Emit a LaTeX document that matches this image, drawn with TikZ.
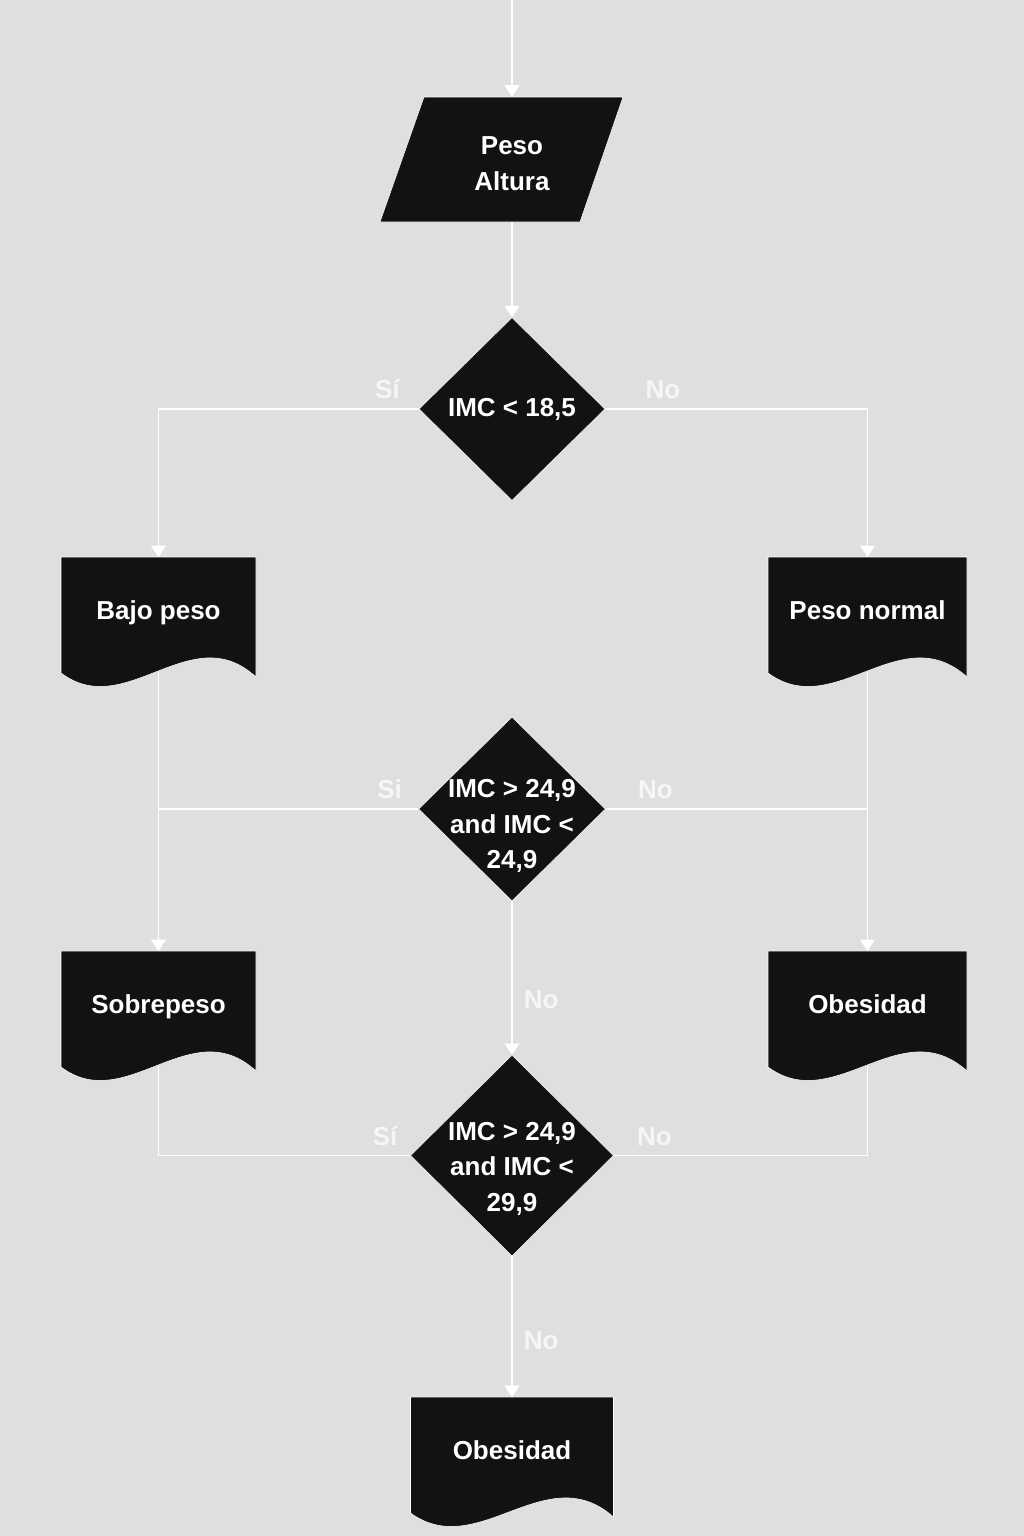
\documentclass[tikz,border=0pt]{standalone}
\usepackage{fontspec}
\setmainfont{Liberation Sans}
\usetikzlibrary{shapes.geometric,arrows.meta}

\definecolor{bggray}{HTML}{DFDFDF}
\definecolor{boxblack}{HTML}{121212}
\definecolor{lblwhite}{HTML}{F6F6F6}

\tikzset{
  BoxStyle/.style={fill=boxblack, draw=white, line width=0.3pt},
  TextStyle/.style={text=white, font=\fontsize{14.8}{20.2}\selectfont\bfseries, align=center},
  DecisionStyle/.style={BoxStyle, diamond, inner sep=0pt},
  DocStyle/.style={TextStyle, anchor=north, minimum height=2.28cm, inner sep=0pt,
                   text height=8pt, text depth=2.3pt},
  LabelStyle/.style={text=lblwhite, font=\fontsize{14.8}{17}\selectfont\bfseries}
}

\newcommand{\DocBox}[5]{%
  \filldraw[BoxStyle] ({#2-#4/2},#3) -- ({#2+#4/2},#3) -- ({#2+#4/2},{#3+120})
    .. controls ({#2+#4/6},{#3+60}) and ({#2-#4/6},{#3+165}) .. ({#2-#4/2},{#3+116}) -- cycle;
  \node[DocStyle] (#1) at (#2,#3) {#5};
}

\begin{document}
\begin{tikzpicture}[x=0.02cm, y=-0.02cm, >={Triangle[width=8.5pt,length=6.5pt]}]
    \path[fill=bggray, use as bounding box] (0,0) rectangle (1024,1536);

    \coordinate (start) at (512,0);
    \filldraw[BoxStyle] (380,222) -- (424,97) -- (623,97) -- (580,222) -- cycle;
    \node[minimum height=2.5cm, inner sep=0pt,
          label={[TextStyle, yshift=-0.08cm]center:{Peso\\Altura}}] (datos) at (512,159.5) {};

    \node[DecisionStyle, minimum width=3.72cm, minimum height=3.66cm,
          label={[TextStyle]center:{IMC < 18,5}}] (imc1) at (512,409) {};
    \node[DecisionStyle, minimum width=3.74cm, minimum height=3.68cm,
          label={[TextStyle, yshift=-0.34cm]center:{IMC > 24,9\\and IMC <\\24,9}}] (imc2) at (512,809) {};
    \node[DecisionStyle, minimum width=4.06cm, minimum height=4.02cm,
          label={[TextStyle, yshift=-0.26cm]center:{IMC > 24,9\\and IMC <\\29,9}}] (imc3) at (512,1155.5) {};

    \DocBox{bajo}{158.5}{557}{195}{Bajo peso}
    \DocBox{normal}{867.5}{557}{199}{Peso normal}
    \DocBox{sobre}{158.5}{951}{195}{Sobrepeso}
    \DocBox{obesa}{867.5}{951}{199}{Obesidad}
    \DocBox{obesb}{512}{1397}{203}{Obesidad}

    \tikzset{EdgeStyle/.style={draw=white, line width=0.8pt, ->}}
    \draw[EdgeStyle] (start) -- (datos.north);
    \draw[EdgeStyle] (datos.south) -- (imc1.north);
    \draw[EdgeStyle] (imc1.west) -| node[LabelStyle, pos=0.06, above, yshift=2pt] {Sí} (bajo.north);
    \draw[EdgeStyle] (imc1.east) -| node[LabelStyle, pos=0.11, above, yshift=2pt] {No} (normal.north);
    \draw[EdgeStyle] (bajo.south) -- (sobre.north);
    \draw[EdgeStyle] (normal.south) -- (obesa.north);
    \draw[EdgeStyle] (imc2.south) -- node[LabelStyle, pos=0.64, right, xshift=3pt] {No} (imc3.north);
    \draw[EdgeStyle] (imc3.south) -- node[LabelStyle, pos=0.6, right, xshift=3pt] {No} (obesb.north);

    \tikzset{EdgeStyle/.style={draw=white, line width=0.8pt}}
    \draw[EdgeStyle] (imc2.west) -- node[LabelStyle, pos=0.11, above, yshift=2pt] {Si} (imc2.west -| bajo.south);
    \draw[EdgeStyle] (imc2.east) -- node[LabelStyle, pos=0.19, above, yshift=2pt] {No} (imc2.east -| normal.south);
    \draw[EdgeStyle] (imc3.west) -| node[LabelStyle, pos=0.05, above, yshift=2pt] {Sí} (sobre.south);
    \draw[EdgeStyle] (imc3.east) -| node[LabelStyle, pos=0.08, above, yshift=2pt] {No} (obesa.south);
\end{tikzpicture}
\end{document}
